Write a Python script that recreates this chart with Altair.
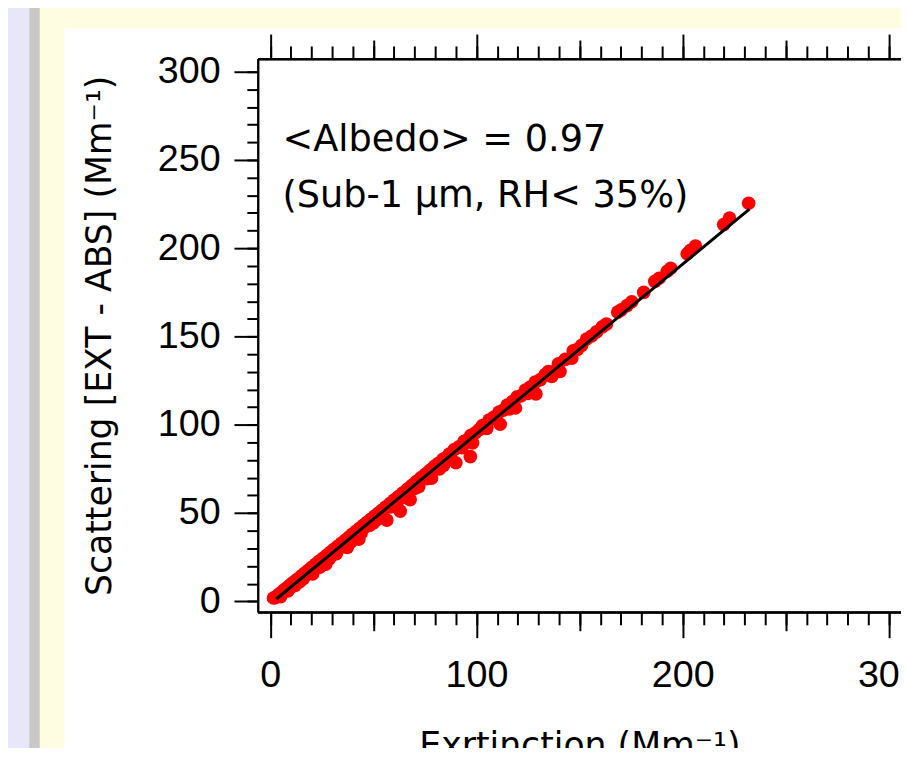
import altair as alt
import pandas as pd

# ---------------- data ----------------
ext = [1.5, 2.4, 3.3, 4.0, 4.8, 5.6, 6.5, 7.3, 8.0, 8.9, 9.7, 10.6, 11.4, 12.2, 13.1, 14.0,
       14.9, 15.8, 16.6, 17.5, 18.4, 19.2, 20.1, 21.0, 21.9, 22.8, 23.6, 24.5, 25.4, 26.3,
       27.2, 28.0, 28.9, 29.8, 30.7, 31.6, 32.5, 33.4, 34.3, 35.2, 36.1, 37.0, 37.9, 38.8,
       39.7, 40.6, 41.5, 42.4, 43.3, 44.2, 45.1, 46.0, 46.9, 47.8, 48.7, 49.6, 50.5, 51.4,
       52.3, 53.2, 54.1, 55.0, 56.0, 57.0, 58.0, 59.0, 60.0, 61.0, 62.0, 63.1, 64.2, 65.3,
       66.4, 67.5, 68.6, 69.7, 70.8, 71.9, 73.0, 74.1, 75.2, 76.3, 77.4, 78.5, 79.6,
       14.1, 20.5, 26.9, 30.0, 37.3, 42.9, 48.0, 52.0, 56.5, 63.0, 67.8, 72.0, 78.2, 84.0,
       10.0, 18.0, 25.0, 33.0, 40.0, 45.5, 58.5, 61.5, 69.0, 75.8,
       5.0, 8.5, 12.0, 16.0, 22.0, 24.0, 28.5, 32.0, 35.5, 39.0, 44.0, 50.0, 54.5, 60.0,
       65.0, 70.5, 76.0, 82.0, 87.5, 93.0, 105.0, 116.0, 125.0, 137.5,
       81.3, 83.7, 85.0, 86.8, 89.2, 90.0, 91.5, 94.0, 95.5, 97.0, 97.3, 98.1, 99.5, 101.3,
       102.9, 104.5, 106.1, 108.5, 110.9, 111.5, 113.0, 114.9, 117.3, 118.9, 119.7, 121.5,
       123.7, 126.1, 128.5, 128.8, 131.0, 133.3, 134.9, 136.5, 139.7, 140.5, 143.0, 146.2,
       146.9, 149.0, 151.0, 153.4, 155.8, 158.2,
       161.0, 163.0, 168.5, 170.2, 173.0, 175.3, 181.1, 186.5, 188.6, 192.5, 194.2, 202.2,
       203.8, 206.2, 219.9, 222.7, 232.0]
sca = [1.9, 2.1, 3.0, 3.8, 4.4, 5.2, 6.2, 6.8, 7.6, 8.3, 9.3, 9.9, 10.9, 11.4, 12.5, 13.0,
       14.2, 14.8, 15.9, 16.4, 17.6, 18.0, 19.2, 19.7, 20.9, 21.4, 22.6, 23.0, 24.2, 24.8,
       25.9, 26.4, 27.6, 28.1, 29.3, 29.8, 31.0, 31.5, 32.7, 33.2, 34.4, 34.9, 36.1, 36.6,
       37.9, 38.3, 39.6, 40.0, 41.3, 41.8, 43.0, 43.5, 44.8, 45.2, 46.5, 46.9, 48.2, 48.7,
       49.9, 50.3, 51.6, 52.1, 53.4, 53.9, 55.4, 55.8, 57.3, 57.8, 59.2, 59.9, 61.3, 62.0,
       63.5, 64.2, 65.6, 66.3, 67.8, 68.4, 69.9, 70.6, 72.0, 72.8, 74.2, 75.0, 76.4,
       11.0, 15.5, 21.1, 26.2, 30.5, 35.2, 43.0, 46.5, 46.0, 51.1, 57.6, 65.0, 69.8, 77.0,
       8.0, 15.5, 22.0, 29.8, 36.5, 41.8, 53.5, 56.0, 63.5, 70.0,
       2.6, 5.9, 9.0, 12.8, 18.5, 19.4, 24.0, 27.0, 31.0, 33.5, 38.6, 44.4, 48.5, 54.0,
       58.8, 64.2, 69.5, 75.0, 81.0, 87.0, 98.0, 109.0, 117.8, 130.0,
       78.0, 80.5, 81.1, 83.4, 86.0, 78.5, 87.5, 90.7, 91.4, 82.0, 94.0, 89.8, 95.5, 97.3,
       99.5, 100.1, 102.6, 104.4, 107.2, 100.3, 108.3, 111.2, 113.0, 109.5, 115.9, 116.4,
       119.6, 121.3, 124.2, 117.5, 125.6, 128.4, 130.2, 127.4, 134.5, 130.2, 137.1, 137.7,
       141.9, 142.7, 145.0, 148.6, 150.3, 152.6,
       155.5, 157.0, 163.8, 165.1, 167.5, 169.7, 175.0, 181.2, 183.0, 187.0, 188.7, 196.9,
       198.8, 201.2, 213.4, 217.1, 225.5]

fit_ext = [2.9, 232.4]
fit_sca = [1.3, 222.2]

note_text = ["<Albedo> = 0.97", "(Sub-1 \u00b5m, RH< 35%)"]
note_x = [5.9, 5.9]
note_y = [255.1, 223.1]

x_major = [0, 100, 200, 300]
x_medium = [50, 150, 250]
x_minor = [0, 10, 20, 30, 40, 50, 60, 70, 80, 90, 100, 110, 120, 130, 140, 150, 160, 170,
           180, 190, 200, 210, 220, 230, 240, 250, 260, 270, 280, 290, 300]
y_major = [0, 50, 100, 150, 200, 250, 300]
y_minor = x_minor

x_title = "Exrtinction (Mm\u207b\u00b9)"
y_title = "Scattering [EXT - ABS] (Mm\u207b\u00b9)"

# ---------------- tables ----------------
pts = pd.DataFrame({"ext": ext, "sca": sca})
fit = pd.DataFrame({"fx": fit_ext, "fy": fit_sca})
notes = pd.DataFrame({"tx": note_x, "ty": note_y, "t": note_text})

FONT = "Liberation Sans"
WIDE = "DejaVu Sans"
xs = alt.Scale(domain=[-6.1, 305.9], nice=False, zero=False)
ys = alt.Scale(domain=[-6.0, 307.3], nice=False, zero=False)


def axis(orient, values, size, labels=False, title=None, **extra):
    kw = dict(orient=orient, values=values, tickSize=size, tickWidth=2, tickColor="black",
              domainColor="black", domainWidth=2, grid=False, ticks=True, labels=labels,
              zindex=1)
    if labels:
        kw.update(labelFont=FONT, labelFontSize=38, labelColor="black", labelFlush=False,
                  labelOverlap=False)
    if title:
        kw.update(title=title, titleFont=WIDE, titleFontSize=35, titleFontWeight="normal",
                  titleColor="black", titleBaseline="alphabetic")
    else:
        kw.update(title="")
    kw.update(extra)
    return alt.Axis(**kw)


def bg(color, x1, x2, y1, y2):
    return alt.Chart(alt.Data(values=[{"k": 1}])).mark_rect(color=color).encode(
        x=alt.value(x1), x2=alt.value(x2), y=alt.value(y1), y2=alt.value(y2))


layers = [
    bg("#E7E7F9", -270, -230.5, -60, 720),
    bg("#C8C8C8", -230.5, -220, -60, 720),
    bg("#FFFFFF", -195, 700, -31, 720),
    alt.Chart(pts).mark_circle(size=190, color="#FF0000", opacity=1).encode(
        x=alt.X("ext:Q", scale=xs,
                axis=axis("bottom", x_major, 26, labels=True, title=x_title,
                          labelPadding=19, titleY=146)),
        y=alt.Y("sca:Q", scale=ys,
                axis=axis("left", y_major, 24, labels=True, title=y_title,
                          labelPadding=14, titleX=-149)),
    ),
    alt.Chart(fit).mark_line(color="black", strokeWidth=3).encode(
        x=alt.X("fx:Q", scale=xs, axis=axis("bottom", x_medium, 19)),
        y=alt.Y("fy:Q", scale=ys, axis=axis("left", y_minor, 11)),
    ),
    alt.Chart(notes).mark_text(align="left", baseline="alphabetic", font=WIDE,
                               fontSize=37, color="black").encode(
        x=alt.X("tx:Q", scale=xs, axis=axis("bottom", x_minor, 13)),
        y=alt.Y("ty:Q", scale=ys, axis=None),
        text="t:N",
    ),
]

for vals, size in [(x_major, 25), (x_medium, 19), (x_minor, 13)]:
    layers.append(
        alt.Chart(notes).mark_point(opacity=0).encode(
            x=alt.X("tx:Q", scale=xs, axis=axis("top", vals, size)),
            y=alt.Y("ty:Q", scale=ys, axis=None),
        )
    )

chart = alt.layer(*layers).resolve_axis(x="independent", y="independent").properties(
    width=649,
    height=558,
    autosize=alt.AutoSizeParams(type="none"),
    padding={"left": 252, "top": 48, "right": 0, "bottom": 134},
    background="#FFFDE1",
).configure_view(stroke="transparent")

chart.save("out.html", embed_options={"renderer": "svg", "actions": False})
